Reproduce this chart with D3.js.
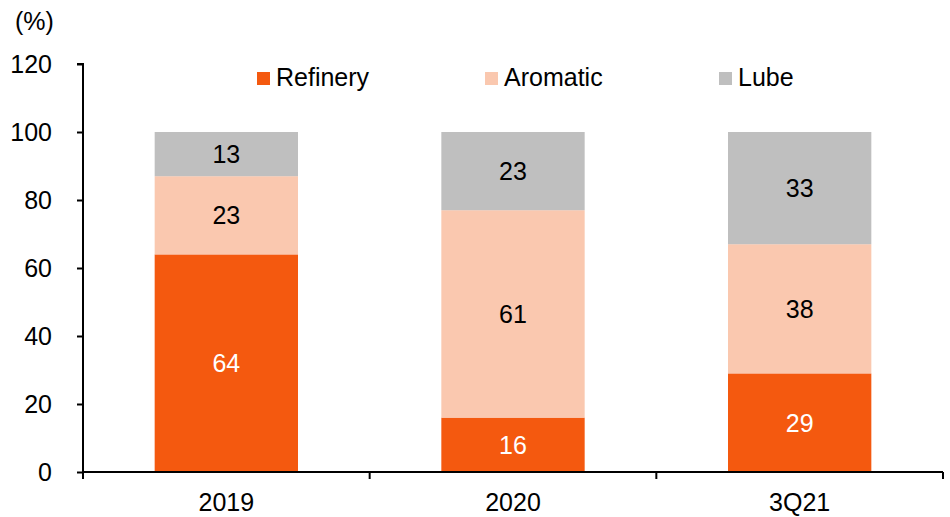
<!DOCTYPE html>
<html>
<head>
<meta charset="utf-8">
<script src="https://cdn.jsdelivr.net/npm/d3@7"></script>
<style>
  body { margin: 0; background: #fff; }
  text { font-family: "Liberation Sans", Arial, sans-serif; }
</style>
</head>
<body>
<svg id="chart" width="950" height="517"></svg>
<script>
const categories = ['2019', '2020', '3Q21'];
const seriesNames = ['Refinery', 'Aromatic', 'Lube'];
const refinery = [64, 16, 29];
const aromatic = [23, 61, 38];
const lube = [13, 23, 33];
const yTicks = [0, 20, 40, 60, 80, 100, 120];

const colors = ['#F4590F', '#FAC8AF', '#BFBFBF'];
const labelColors = ['#fff', '#000', '#000'];
const FONT = '25px';

const svg = d3.select('#chart');
const margin = { top: 64, right: 7, bottom: 45, left: 83 };
const width = 950 - margin.left - margin.right;
const height = 517 - margin.top - margin.bottom;

const g = svg.append('g')
  .attr('transform', `translate(${margin.left},${margin.top})`);

const table = categories.map((c, i) => ({
  cat: c, Refinery: refinery[i], Aromatic: aromatic[i], Lube: lube[i],
}));
const stacked = d3.stack().keys(seriesNames)(table);

const x = d3.scaleBand()
  .domain(categories)
  .range([0, width])
  .paddingInner(0.5)
  .paddingOuter(0.25);

const y = d3.scaleLinear()
  .domain([0, 120])
  .range([height, 0]);

// bars
const layers = g.selectAll('.layer')
  .data(stacked)
  .enter()
  .append('g')
  .attr('fill', (d, i) => colors[i]);

layers.selectAll('rect')
  .data(d => d)
  .enter()
  .append('rect')
  .attr('x', d => x(d.data.cat))
  .attr('width', x.bandwidth())
  .attr('y', d => y(d[1]))
  .attr('height', d => y(d[0]) - y(d[1]));

// value labels
stacked.forEach((layer, li) => {
  g.selectAll('.lbl' + li)
    .data(layer)
    .enter()
    .append('text')
    .attr('x', d => x(d.data.cat) + x.bandwidth() / 2)
    .attr('y', d => y((d[0] + d[1]) / 2))
    .attr('dy', '0.36em')
    .attr('text-anchor', 'middle')
    .style('font-size', FONT)
    .style('fill', labelColors[li])
    .text(d => d[1] - d[0]);
});

// y axis
const yAxis = g.append('g')
  .call(d3.axisLeft(y).tickValues(yTicks).tickSize(6).tickPadding(25));
yAxis.select('.domain').attr('stroke', '#000').attr('stroke-width', 2)
  .attr('d', `M0,${height}V0H-6`);
yAxis.selectAll('.tick line').attr('stroke', '#000').attr('stroke-width', 2);
yAxis.selectAll('.tick text')
  .style('font-size', FONT)
  .style('font-family', '"Liberation Sans", Arial, sans-serif')
  .attr('fill', '#000');

// x axis
const xAxis = g.append('g')
  .attr('transform', `translate(0,${height})`)
  .call(d3.axisBottom(x).tickSize(0).tickPadding(21));
xAxis.select('.domain').remove();
xAxis.selectAll('.tick text')
  .style('font-size', FONT)
  .style('font-family', '"Liberation Sans", Arial, sans-serif')
  .attr('fill', '#000');

g.append('line')
  .attr('x1', 0).attr('x2', width)
  .attr('y1', height).attr('y2', height)
  .attr('stroke', '#000').attr('stroke-width', 2);

const xEdges = categories.map(c => x(c) - x.step() * x.paddingInner() / 2)
  .concat([width]);
g.selectAll('.xtick')
  .data(xEdges)
  .enter()
  .append('line')
  .attr('x1', d => d).attr('x2', d => d)
  .attr('y1', height).attr('y2', height + 7)
  .attr('stroke', '#000').attr('stroke-width', 2);

// unit label
svg.append('text')
  .attr('x', 15).attr('y', 30)
  .style('font-size', FONT)
  .text('(%)');

// legend
const legendX = [257, 485, 719];
const legend = svg.selectAll('.legend')
  .data(seriesNames)
  .enter()
  .append('g')
  .attr('transform', (d, i) => `translate(${legendX[i]},72)`);
legend.append('rect')
  .attr('width', 13).attr('height', 13)
  .attr('fill', (d, i) => colors[i]);
legend.append('text')
  .attr('x', 19).attr('y', 14)
  .style('font-size', FONT)
  .text(d => d);
</script>
</body>
</html>
